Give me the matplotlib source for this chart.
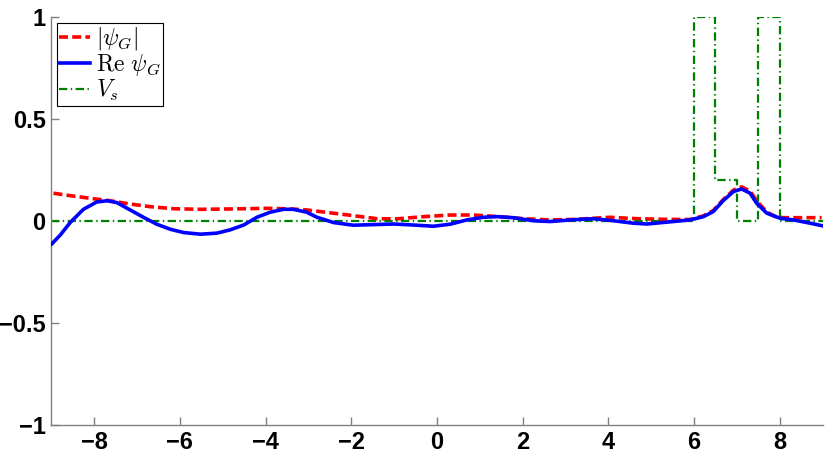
import matplotlib
matplotlib.use('Agg')
import matplotlib.pyplot as plt

# |psi_G|
x_abs = [-8.95, -8.56, -8.09, -7.62, -7.16, -6.69, -6.15, -5.52, -4.75, -3.97, -3.43,
         -3.04, -2.65, -2.03, -1.40, -0.94, -0.31, 0.31, 0.85, 1.47, 2.10, 2.64, 3.26,
         4.04, 4.66, 5.28, 5.91, 6.22, 6.45, 6.68, 6.92, 7.11, 7.31, 7.46, 7.70, 7.90,
         8.08, 8.47, 8.98]
abs_psi = [0.137, 0.125, 0.112, 0.100, 0.084, 0.071, 0.061, 0.058, 0.060, 0.063, 0.060,
           0.055, 0.045, 0.029, 0.012, 0.011, 0.022, 0.030, 0.030, 0.022, 0.011, 0.006, 0.009,
           0.019, 0.012, 0.009, 0.008, 0.026, 0.052, 0.105, 0.152, 0.168, 0.148, 0.100, 0.045, 0.022,
           0.017, 0.017, 0.017]

# Re psi_G
x_re = [-8.99, -8.79, -8.56, -8.25, -7.94, -7.70, -7.47, -7.16, -6.85, -6.54, -6.22,
        -5.91, -5.52, -5.14, -4.83, -4.51, -4.20, -3.89, -3.58, -3.35, -3.04, -2.80,
        -2.41, -1.95, -1.48, -1.01, -0.55, -0.08, 0.31, 0.70, 1.08, 1.40, 1.78, 2.25,
        2.64, 3.11, 3.65, 4.12, 4.58, 4.90, 5.36, 5.91, 6.22, 6.45, 6.68, 6.92, 7.11,
        7.31, 7.46, 7.70, 8.01, 8.32, 8.71, 8.98]
re_psi = [-0.112, -0.068, -0.007, 0.058, 0.094, 0.100, 0.091, 0.055, 0.019, -0.015, -0.040,
          -0.056, -0.064, -0.059, -0.043, -0.019, 0.019, 0.044, 0.058, 0.058, 0.044, 0.019,
          -0.007, -0.020, -0.017, -0.014, -0.019, -0.025, -0.015, 0.006, 0.019, 0.022, 0.017, 0.002,
          -0.002, 0.006, 0.012, 0.002, -0.010, -0.014, -0.005, 0.006, 0.022, 0.047, 0.100, 0.145, 0.158,
          0.137, 0.088, 0.039, 0.014, 0.006, -0.010, -0.022]

# V_s step potential
x_v = [-9, 6, 6, 6.5, 6.5, 7, 7, 7.5, 7.5, 8, 8, 9]
v_s = [0, 0, 1, 1, 0.2, 0.2, 0, 0, 1, 1, 0, 0]

plt.rcParams['mathtext.fontset'] = 'cm'
plt.rcParams['lines.scale_dashes'] = False

fig = plt.figure(figsize=(8.3, 4.54), dpi=100)
ax = fig.add_axes([0.0618, 0.0639, 0.9292, 0.898])

l1, = ax.plot(x_abs, abs_psi, color='r', lw=2.6, dashes=(6.5, 3), label=r'$|\psi_G|$')
l2, = ax.plot(x_re, re_psi, color='b', lw=2.6, label=r'$\mathrm{Re}\ \psi_G$', zorder=3)
l3, = ax.plot(x_v, v_s, color=(0, 0.5, 0), lw=1.6, dashes=(6, 2.5, 1, 2.5), label=r'$V_s$')

ax.set_xlim(-9, 9)
ax.set_ylim(-1, 1)
ax.set_xticks(range(-8, 9, 2))
ax.set_xticklabels(['\u22128', '\u22126', '\u22124', '\u22122', '0', '2', '4', '6', '8'])
ax.set_yticks([-1, -0.5, 0, 0.5, 1])
ax.set_yticklabels(['\u22121', '\u22120.5', '0', '0.5', '1'])

for s in ['top', 'right']:
    ax.spines[s].set_visible(False)
for s in ['left', 'bottom']:
    ax.spines[s].set_color('#808080')
    ax.spines[s].set_linewidth(1.0)
ax.tick_params(direction='in', length=6, color='#808080', width=1.0, pad=4)
for lab in ax.get_xticklabels() + ax.get_yticklabels():
    lab.set_fontfamily('Liberation Sans')
    lab.set_fontweight('bold')
    lab.set_fontsize(17)

leg = ax.legend(handles=[l1, l2, l3], loc='upper left', bbox_to_anchor=(0.007, 0.986),
                borderaxespad=0, fontsize=17, fancybox=False, framealpha=1,
                edgecolor='black', labelspacing=0.0, handlelength=1.3,
                handletextpad=0.25, borderpad=0.1)
leg.get_frame().set_linewidth(0.8)

fig.savefig('out.png', dpi=100)
